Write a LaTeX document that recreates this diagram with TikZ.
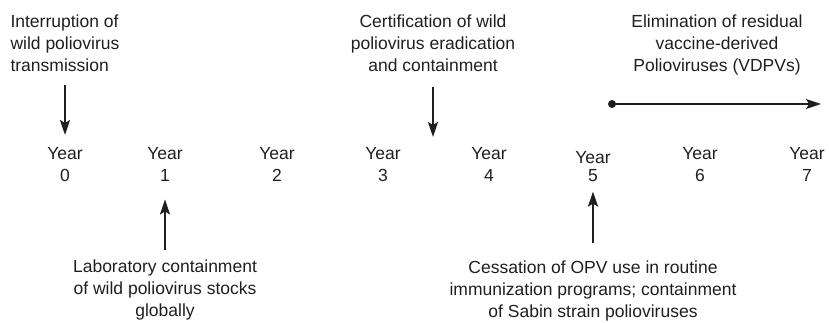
\documentclass[tikz,border=0pt]{standalone}
\usepackage{fontspec}
\setmainfont{Liberation Sans}
\usetikzlibrary{arrows.meta}

\tikzstyle{event}=[inner sep=0pt, align=center, anchor=north, text=black!88, font=\fontsize{17.5}{22}\selectfont]
\tikzstyle{year}=[event]
\tikzstyle{arrow}=[line width=2pt, black!88, -{Stealth[length=15pt, width=10pt, inset=3pt]}]

\begin{document}
\begin{tikzpicture}[x=1pt, y=-1pt]
      \useasboundingbox (0,0) rectangle (829,323);

      \node[year] (y0) at (65, 147) {Year\\0};
      \node[year] (y1) at (165, 147) {Year\\1};
      \node[year] (y2) at (277, 147) {Year\\2};
      \node[year] (y3) at (383, 147) {Year\\3};
      \node[year] (y4) at (489, 147) {Year\\4};
      \node[year] (y5) at (593, 151) {Year\\[-4pt]5};
      \node[year] (y6) at (700, 147) {Year\\6};
      \node[year] (y7) at (807, 147) {Year\\7};

      \node[event, align=left] (interrupt) at (65, 15) {Interruption of\\wild poliovirus\\transmission};
      \node[event] (certify) at (433, 15) {Certification of wild\\poliovirus eradication\\and containment};
      \node[event] (eliminate) at (717, 15) {Elimination of residual\\vaccine-derived\\Polioviruses (VDPVs)};
      \node[event] (lab) at (165, 260) {Laboratory containment\\of wild poliovirus stocks\\globally};
      \node[event] (cessation) at (593, 261) {Cessation of OPV use in routine\\immunization programs; containment\\of Sabin strain polioviruses};

      \coordinate (certend) at (certify.south |- y3.north);
      \coordinate (vstart) at (612, 104);
      \coordinate (vend) at (821, 104);

      \draw[arrow, shorten <=13pt, shorten >=12pt] (interrupt.south) to (y0.north);
      \draw[arrow, shorten <=15pt, shorten >=10pt] (certify.south) to (certend);
      \draw[arrow, shorten <=10pt, shorten >=18pt] (lab.north) to (y1.south);
      \draw[arrow, shorten <=18pt, shorten >=10pt] (cessation.north) to (y5.south);
      \fill[black!88] (vstart) circle (4pt);
      \draw[arrow] (vstart) to (vend);
    \end{tikzpicture}
\end{document}
